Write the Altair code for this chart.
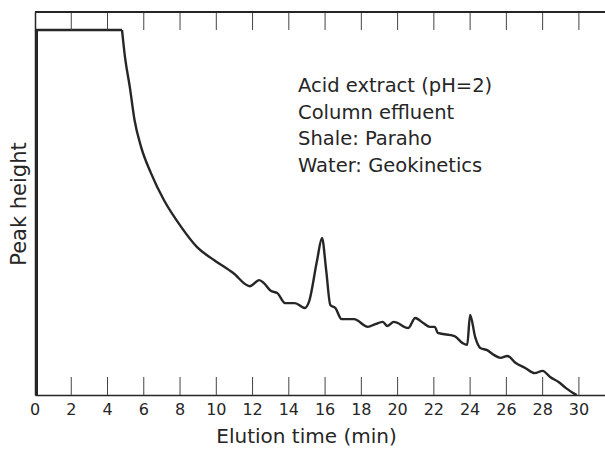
import altair as alt
import pandas as pd

# Chromatogram trace (time in min, peak height in arbitrary units 0-100)
time_min = [0.0, 0.1, 0.1, 4.8, 4.97, 5.23, 5.49, 5.85, 6.39, 7.11, 8.06, 8.94, 9.89,
            10.92, 11.85, 12.37, 12.63, 13.0, 13.37, 13.79, 14.33, 14.89, 15.11, 15.56,
            15.83, 16.06, 16.29, 16.57, 16.91, 17.6, 18.36, 18.77, 19.18, 19.44, 19.79,
            20.59, 20.97, 21.41, 21.78, 22.05, 22.22, 23.14, 23.57, 23.84, 24.0, 24.28,
            24.56, 24.94, 25.33, 25.67, 26.06, 26.5, 27.06, 27.56, 28.0, 28.41, 28.88,
            29.29, 29.76, 29.88]
height = [0.0, 0.0, 95.3, 95.3, 88.0, 80.4, 71.8, 64.8, 58.0, 50.9, 43.9, 38.6, 35.2,
          31.9, 28.4, 30.0, 29.2, 27.2, 26.6, 24.0, 24.0, 22.7, 24.3, 35.2,
          41.0, 32.6, 23.5, 22.7, 19.8, 19.8, 17.8, 18.5, 19.1, 18.0, 19.1,
          17.5, 20.1, 18.8, 17.8, 17.8, 16.2, 15.4, 13.6, 13.1, 20.9, 15.1,
          12.3, 11.7, 10.4, 9.7, 10.2, 8.4, 7.0, 5.7, 6.3, 4.7, 3.4,
          1.8, 0.3, 0.0]

tick_values = [2, 4, 6, 8, 10, 12, 14, 16, 18, 20, 22, 24, 26, 28, 30]
label_values = [0, 2, 4, 6, 8, 10, 12, 14, 16, 18, 20, 22, 24, 26, 28, 30]
annotation_lines = ["Acid extract (pH=2)", "Column effluent", "Shale: Paraho", "Water: Geokinetics"]

X_MAX = 31.44
FONT = "DejaVu Sans"
INK = "#262626"
PLOT_H = 383

trace = pd.DataFrame({"t": time_min, "h": height, "i": list(range(len(time_min)))})
ticks = pd.DataFrame({"t": tick_values})
labels = pd.DataFrame({"t": label_values, "lab": [str(v) for v in label_values]})
ann = pd.DataFrame({"txt": ["\n".join(annotation_lines)]})

xs = alt.Scale(domain=[0, X_MAX], nice=False, zero=False)
ys = alt.Scale(domain=[0, 100], nice=False)

x_axis = alt.Axis(values=label_values, ticks=False, grid=False, domain=True,
                  domainColor=INK, domainWidth=1.5, labels=False,
                  title="Elution time  (min)", titleFont=FONT, titleFontSize=20,
                  titleFontWeight="normal", titleColor=INK,
                  titlePadding=31, titleX=271)
y_axis = alt.Axis(labels=False, ticks=False, grid=False, domain=True,
                  domainColor=INK, domainWidth=1.5,
                  title="Peak height", titleFont=FONT, titleFontSize=21,
                  titleFontWeight="normal", titleColor=INK, titlePadding=6)

base = alt.Chart(trace)
rise = base.transform_filter("datum.i <= 3").mark_line(
    color=INK, strokeWidth=2.4, interpolate="linear", clip=True
).encode(
    x=alt.X("t:Q", scale=xs, axis=x_axis),
    y=alt.Y("h:Q", scale=ys, axis=y_axis),
    order="i:Q",
)
decay = base.transform_filter("datum.i >= 3").mark_line(
    color=INK, strokeWidth=2.4, interpolate="monotone", clip=True
).encode(
    x=alt.X("t:Q", scale=xs, axis=x_axis),
    y=alt.Y("h:Q", scale=ys, axis=y_axis),
    order="i:Q",
)

bottom_ticks = alt.Chart(ticks).mark_rule(color="#444", strokeWidth=1).encode(
    x=alt.X("t:Q", scale=xs, axis=x_axis), y=alt.datum(0), y2=alt.datum(4.7)
)
top_ticks = alt.Chart(ticks).mark_rule(color="#444", strokeWidth=1).encode(
    x=alt.X("t:Q", scale=xs, axis=x_axis), y=alt.datum(95.3), y2=alt.datum(100)
)
top_frame = alt.Chart(ticks).mark_rule(color=INK, strokeWidth=1.5).encode(
    x=alt.datum(0), x2=alt.datum(X_MAX), y=alt.datum(100)
)
tick_labels = alt.Chart(labels).mark_text(
    baseline="middle", align="center", font=FONT, fontSize=16, color=INK
).encode(x=alt.X("t:Q", scale=xs, axis=x_axis), y=alt.value(PLOT_H + 15), text="lab:N")

text = alt.Chart(ann).mark_text(
    align="left", baseline="alphabetic", lineBreak="\n", lineHeight=26.7,
    font=FONT, fontSize=19.5, color=INK
).encode(x=alt.datum(14.51), y=alt.datum(79.1), text="txt:N")

chart = alt.layer(rise, decay, bottom_ticks, top_ticks, top_frame, tick_labels, text).properties(
    width=570, height=PLOT_H,
    padding={"left": 35, "top": 12, "right": 0, "bottom": 54},
    autosize=alt.AutoSizeParams(type="none"),
).configure_view(stroke=None).configure(background="white")

chart.save("out.html", embed_options={"renderer": "svg", "actions": False})
